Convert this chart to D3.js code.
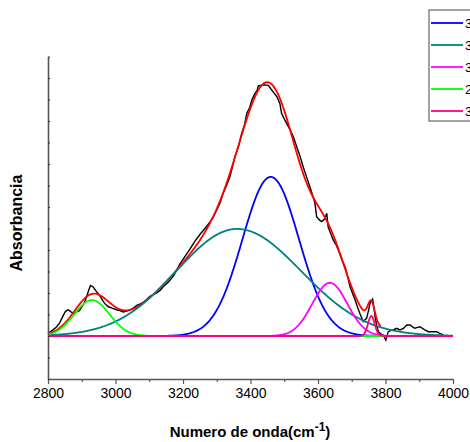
<!DOCTYPE html>
<html>
<head>
<meta charset="utf-8">
<script src="https://cdn.jsdelivr.net/npm/d3@7"></script>
<style>
html,body{margin:0;padding:0;background:#fff;overflow:hidden;}
svg{display:block;}
</style>
</head>
<body>
<svg id="chart" width="470" height="442"></svg>
<script>
// ---- data ----
const xTicks = [2800, 3000, 3200, 3400, 3600, 3800, 4000];
const blackX = [2800,2812,2825,2835,2845,2852,2860,2868,2875,2885,2893,2900,2908,2915,2921,2926,2934,2942,2949,2957,2964,2972,2979,2990,3003,3013,3023,3033,3043,3053,3063,3072,3082,3092,3102,3112,3122,3132,3142,3156,3171,3181,3191,3206,3221,3235,3250,3265,3280,3290,3300,3310,3319,3329,3339,3347,3354,3364,3374,3382,3389,3397,3404,3412,3420,3423,3433,3443,3453,3460,3470,3478,3487,3492,3500,3507,3517,3527,3537,3547,3556,3566,3576,3584,3591,3596,3604,3611,3620,3626,3630,3638,3645,3655,3665,3672,3680,3688,3695,3703,3710,3717,3724,3734,3744,3750,3754,3762,3766,3769,3774,3779,3786,3793,3801,3808,3815,3823,3833,3843,3853,3863,3873,3880,3887,3895,3902,3915,3927,3940,3952,3960,3966,3971];
const blackY = [0.12,0.25,0.42,0.62,0.95,1.15,1.22,1.12,1.06,1.12,1.18,1.36,1.55,1.85,2.15,2.35,2.28,2.1,1.97,1.78,1.6,1.45,1.36,1.3,1.22,1.18,1.12,1.16,1.22,1.3,1.42,1.48,1.56,1.7,1.84,1.92,2.0,2.12,2.3,2.5,2.78,3.05,3.35,3.7,4.05,4.4,4.72,5.0,5.3,5.55,5.86,6.2,6.64,7.0,7.41,7.9,8.34,8.8,9.43,9.8,10.36,10.6,10.98,11.25,11.44,11.63,11.66,11.68,11.66,11.5,11.3,11.13,10.82,10.36,10.1,9.89,9.6,9.27,8.8,8.35,7.87,7.4,6.94,6.55,6.17,5.55,5.4,5.32,5.45,5.71,5.08,4.75,4.47,4.2,3.8,3.5,3.22,2.75,2.29,1.95,1.67,1.35,1.05,0.67,0.82,1.2,1.52,1.71,1.3,0.9,0.5,0.2,0.1,0.05,-0.19,0.2,0.25,0.28,0.36,0.28,0.35,0.51,0.51,0.42,0.36,0.4,0.43,0.3,0.2,0.2,0.2,0.12,0.09,0.05];

// Gaussian fit components (peak centre, height, left/right width)
const peakLabels  = ["3460", "3360", "3635", "2930", "3758"];
const peakCenters = [3460, 3360, 3635, 2930, 3758];
const peakHeights = [7.4, 4.98, 2.47, 1.67, 0.93];
const peakWidthsL = [84, 180, 52, 52, 10];
const peakWidthsR = [84, 190, 52, 52, 10];
const peakColors  = ["#0000ff", "#008080", "#ff00ff", "#00ff00", "#ff0080"];
const fitRange = [2800, 3786];

// ---- layout ----
const svg = d3.select("#chart");
const x = d3.scaleLinear().domain([2800, 4000]).range([48, 453]);
const y = d3.scaleLinear().domain([-2, 13]).range([379, 56.5]);

function comp(i, v) {
  const s = v < peakCenters[i] ? peakWidthsL[i] : peakWidthsR[i];
  const d = (v - peakCenters[i]) / s;
  return peakHeights[i] * Math.exp(-0.5 * d * d);
}
const grid = d3.range(2800, 4000.01, 2);
const line = d3.line().x(d => x(d[0])).y(d => y(d[1]));

// black experimental data
svg.append("path")
  .datum(blackX.map((v, i) => [v, blackY[i]]))
  .attr("d", line).attr("fill", "none").attr("stroke", "#000").attr("stroke-width", 1.4);

// red fit (sum of components)
const fitGrid = grid.filter(v => v >= fitRange[0] && v <= fitRange[1]);
svg.append("path")
  .datum(fitGrid.map(v => [v, d3.sum(peakCenters, (c, i) => comp(i, v))]))
  .attr("d", line).attr("fill", "none").attr("stroke", "#ff0000").attr("stroke-width", 1.8);

// components
peakCenters.forEach((c, i) => {
  svg.append("path")
    .datum(grid.map(v => [v, comp(i, v)]))
    .attr("d", line).attr("fill", "none").attr("stroke", peakColors[i]).attr("stroke-width", 1.8);
});

// axes
const axisColor = "#555";
const xAxis = d3.axisBottom(x).tickValues(xTicks).tickSize(5).tickSizeOuter(0).tickPadding(4).tickFormat(d3.format("d"));
const gx = svg.append("g").attr("transform", "translate(0,379)").call(xAxis);
gx.select(".domain").attr("stroke", axisColor).attr("stroke-width", 1.6);
gx.selectAll(".tick line").attr("stroke", axisColor).attr("stroke-width", 1.2);
gx.selectAll(".tick text").attr("font-family", "Arial, 'Liberation Sans', sans-serif").attr("font-size", 14).attr("fill", "#000");
const xMinor = d3.axisBottom(x).tickValues(d3.range(2900, 4000, 200)).tickSize(3).tickFormat("").tickSizeOuter(0);
const gxm = svg.append("g").attr("transform", "translate(0,379)").call(xMinor);
gxm.select(".domain").remove();
gxm.selectAll(".tick line").attr("stroke", axisColor).attr("stroke-width", 1.2);

const yAxis = d3.axisRight(y).ticks(15).tickSize(2).tickFormat("").tickSizeOuter(0);
const gy = svg.append("g").attr("transform", "translate(48,0)").call(yAxis);
gy.select(".domain").attr("stroke", axisColor).attr("stroke-width", 1.6);
gy.selectAll(".tick line").attr("stroke", "#333").attr("stroke-width", 1.2);

// axis titles
svg.append("text").attr("x", 250).attr("y", 437).attr("text-anchor", "middle")
  .attr("font-family", "Arial, 'Liberation Sans', sans-serif").attr("font-weight", "bold").attr("font-size", 15)
  .call(t => {
    t.append("tspan").text("Numero de onda(cm");
    t.append("tspan").attr("dy", -6).attr("font-size", 12).text("-1");
    t.append("tspan").attr("dy", 6).text(")");
  });
svg.append("text").attr("transform", "translate(22,223) rotate(-90)").attr("text-anchor", "middle")
  .attr("font-family", "Arial, 'Liberation Sans', sans-serif").attr("font-weight", "bold").attr("font-size", 16)
  .text("Absorbancia");

// legend
const lg = svg.append("g");
lg.append("rect").attr("x", 429).attr("y", 10).attr("width", 60).attr("height", 111)
  .attr("fill", "#fff").attr("stroke", "#666").attr("stroke-width", 1.2);
peakLabels.forEach((lab, i) => {
  const yy = 23 + i * 22;
  lg.append("line").attr("x1", 431).attr("x2", 463).attr("y1", yy).attr("y2", yy)
    .attr("stroke", peakColors[i]).attr("stroke-width", 1.8);
  lg.append("text").attr("x", 465).attr("y", yy + 5).attr("font-family", "Arial, 'Liberation Sans', sans-serif")
    .attr("font-size", 13).text(lab);
});
</script>
</body>
</html>
